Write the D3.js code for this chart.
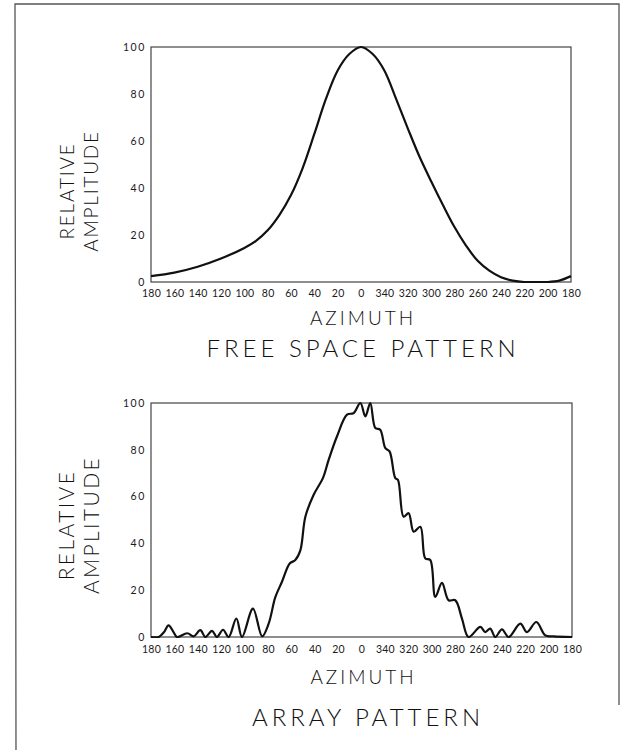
<!DOCTYPE html>
<html>
<head>
<meta charset="utf-8">
<script src="https://cdn.jsdelivr.net/npm/d3@7"></script>
<style>
  html, body { margin: 0; padding: 0; background: #fff; }
  svg { display: block; }
  .tick text { font-family: Lato, "DejaVu Sans", sans-serif; fill: #1a1a1a; }
</style>
</head>
<body>
<svg id="chart" width="623" height="750"></svg>
<script>
// ---- Data (azimuth measured so that left edge = 180, centre = 0, right edge = 180 via 340..200) ----
// signed angle: +180 (left) ... 0 (centre) ... -180 (right)
const freeAngles = [180, 160, 140, 120, 100, 90, 80, 70, 60, 50, 40, 30, 20, 10, 0,
  -10, -20, -30, -40, -50, -60, -70, -80, -90, -100, -110, -120, -130, -140, -150, -160, -170, -180];
const freeValues = [2.5, 4, 6.5, 10, 14.5, 17.5, 22, 28.5, 37, 48.5, 63, 78, 90, 97, 100,
  97, 90, 78, 65.5, 53.5, 43, 33, 23.5, 15.5, 9, 4.8, 2, 0.6, 0, 0, 0, 0.6, 2.5];

const arrayAngles = [180, 173.4, 169, 165, 160.6, 157.8, 149, 143.5, 137.8, 133.5, 127.8, 123.6,
  118.4, 113.6, 107, 102.2, 92.8, 85, 79.4, 73.7, 68, 61.4, 56.6, 52.3, 48, 41, 33, 28.1, 21,
  12.4, 6.7, 1, -3.3, -7.5, -11.8, -16, -20.4, -24, -28.9, -31.2, -36, -40.3, -44.6, -50.3,
  -54.5, -58.8, -63.1, -68.8, -74.5, -80.2, -85.9, -91.6, -101.6, -105.8, -110.1, -114.4,
  -120.1, -125.8, -135.8, -141.5, -149.5, -157.2, -164.3, -180];
const arrayValues = [0, 0, 2, 5, 2, 0, 1.6, 0.3, 2.9, 0, 2.6, 0,
  3.1, 0, 7.9, 0, 12.1, 0.3, 5.7, 17, 23.6, 31.4, 32.9, 37, 51.4, 60.7, 67.9, 75.7, 85.7,
  95, 95.7, 100, 94.3, 100, 89.3, 88.6, 80.7, 79.3, 67.9, 67.1, 51.4, 52.9, 45, 47.1,
  33.6, 32.9, 17.1, 23.1, 15.7, 15.7, 7.9, 0, 4.3, 2.1, 3.6, 0,
  3.3, 0, 5.7, 2.1, 6.4, 0.7, 0.3, 0];

const xTicks = [180, 160, 140, 120, 100, 80, 60, 40, 20, 0, -20, -40, -60, -80, -100, -120, -140, -160, -180];
const yTicks = [0, 20, 40, 60, 80, 100];
const yTitleLines = ["RELATIVE", "AMPLITUDE"];
const xTitle = "AZIMUTH";
const chartTitles = ["FREE SPACE PATTERN", "ARRAY PATTERN"];

// ---- Drawing ----
const svg = d3.select("#chart");

// outer frame (scanned page border)
svg.append("path")
  .attr("d", d3.line()([[16, 750], [15, 4], [619, 4], [619, 705]]))
  .attr("fill", "none").attr("stroke", "#555").attr("stroke-width", 1.3);

const fmt = a => String(a >= 0 ? a : (a === -180 ? 180 : 360 + a));

function panel(cfg) {
  const x = d3.scaleLinear().domain([180, -180]).range([cfg.left, cfg.right]);
  const y = d3.scaleLinear().domain([0, 100]).range([cfg.bottom, cfg.top]);
  const g = svg.append("g");

  // plot frame
  g.append("rect")
    .attr("x", cfg.left).attr("y", cfg.top)
    .attr("width", cfg.right - cfg.left).attr("height", cfg.bottom - cfg.top)
    .attr("fill", "none").attr("stroke", "#444").attr("stroke-width", 1.2);

  // x axis labels
  const xa = g.append("g").attr("transform", `translate(0,${cfg.bottom})`)
    .call(d3.axisBottom(x).tickValues(xTicks).tickFormat(fmt).tickSize(0).tickPadding(cfg.xPad));
  xa.select(".domain").remove();
  xa.selectAll("text").attr("font-size", 10.5).attr("letter-spacing", 0.2);

  // y axis labels
  const ya = g.append("g").attr("transform", `translate(${cfg.left},0)`)
    .call(d3.axisLeft(y).tickValues(yTicks).tickSize(0).tickPadding(5));
  ya.select(".domain").remove();
  ya.selectAll("text").attr("font-size", 10.5).attr("letter-spacing", 1.6);

  // curve (clipped to the plot area so smoothing never dips below the frame)
  const clipId = "clip" + cfg.top;
  g.append("clipPath").attr("id", clipId).append("rect")
    .attr("x", cfg.left - 2).attr("y", cfg.top - 2)
    .attr("width", cfg.right - cfg.left + 4).attr("height", cfg.bottom - cfg.top + 3);
  const pts = cfg.angles.map((a, i) => [x(a), y(cfg.values[i])]);
  g.append("path")
    .attr("clip-path", `url(#${clipId})`)
    .attr("d", d3.line().curve(cfg.curve)(pts))
    .attr("fill", "none").attr("stroke", "#111").attr("stroke-width", 2.2)
    .attr("stroke-linejoin", "round");

  // y title (two rotated lines)
  yTitleLines.forEach((t, i) => {
    g.append("text")
      .attr("transform", `translate(${cfg.yTitleX[i]},${cfg.yTitleY}) rotate(-90)`)
      .attr("text-anchor", "middle")
      .attr("font-family", "Lato, 'DejaVu Sans', sans-serif")
      .attr("font-weight", 300)
      .attr("font-size", cfg.yTitleSize)
      .attr("letter-spacing", cfg.yTitleSpacing)
      .attr("fill", "#111")
      .text(t);
  });

  // x title
  g.append("text")
    .attr("x", (cfg.left + cfg.right) / 2 + 2).attr("y", cfg.xTitleY)
    .attr("text-anchor", "middle")
    .attr("font-family", "Lato, 'DejaVu Sans', sans-serif")
    .attr("font-weight", 300).attr("font-size", 19).attr("letter-spacing", 3)
    .attr("fill", "#111").text(xTitle);

  // chart title
  g.append("text")
    .attr("x", cfg.titleX).attr("y", cfg.titleY)
    .attr("text-anchor", "middle")
    .attr("font-family", "Lato, 'DejaVu Sans', sans-serif")
    .attr("font-weight", 300).attr("font-size", 24).attr("letter-spacing", 4)
    .attr("fill", "#111").text(cfg.title);
}

panel({
  left: 151, right: 571, top: 47, bottom: 282, xPad: 8,
  angles: freeAngles, values: freeValues, curve: d3.curveCatmullRom.alpha(0.5),
  yTitleX: [74, 98], yTitleY: 191, yTitleSize: 19, yTitleSpacing: 1.8,
  xTitleY: 325, titleX: 363, titleY: 357, title: chartTitles[0]
});

panel({
  left: 151, right: 572, top: 403, bottom: 637, xPad: 9,
  angles: arrayAngles, values: arrayValues, curve: d3.curveCatmullRom.alpha(0.5),
  yTitleX: [74, 99], yTitleY: 525, yTitleSize: 21, yTitleSpacing: 2.4,
  xTitleY: 684, titleX: 368, titleY: 726, title: chartTitles[1]
});
</script>
</body>
</html>
